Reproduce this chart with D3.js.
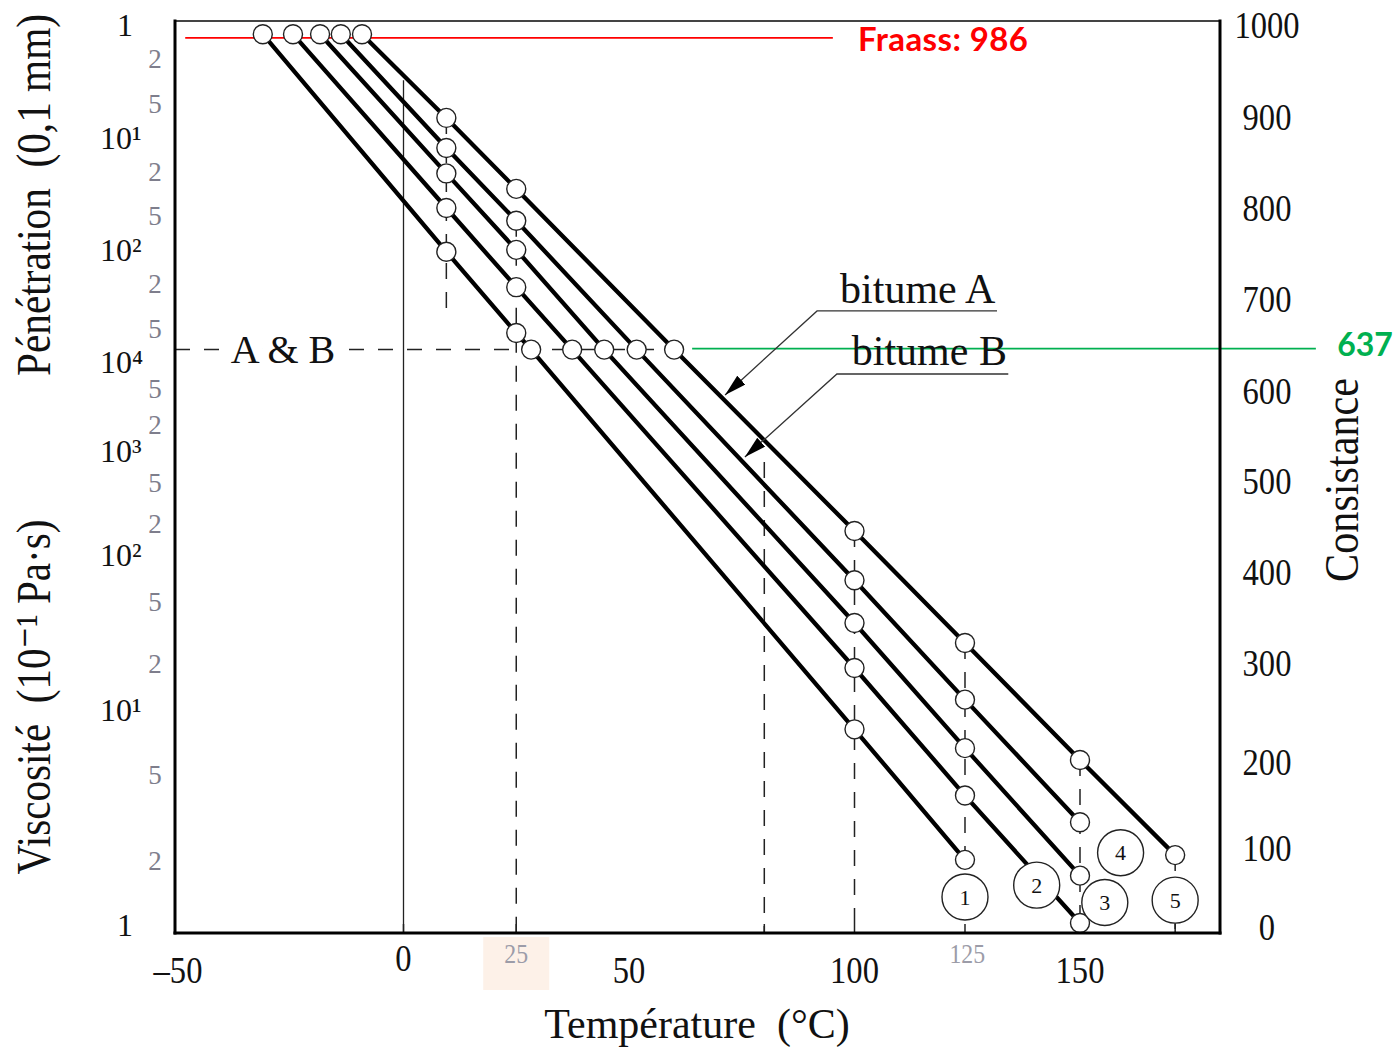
<!DOCTYPE html>
<html>
<head>
<meta charset="utf-8">
<script src="https://cdn.jsdelivr.net/npm/d3@7"></script>
<style>
  body { margin: 0; background: #fff; }
</style>
</head>
<body>
<div id="chart"></div>
<script>
// Bitumen lines: [temperature °C, consistance]
const line1 = [[-31.2, 990], [9.5, 752], [25, 663], [28.3, 645], [100, 233], [124.5, 85]];
const line2 = [[-24.5, 990], [9.5, 800], [25, 713], [37.4, 645], [100, 295], [124.5, 161], [150, 5]];
const line3 = [[-18.5, 990], [9.5, 838], [25, 754], [44.5, 645], [100, 344], [124.5, 214], [150, 65]];
const line4 = [[-13.9, 990], [9.5, 866], [25, 786], [51.7, 645], [100, 391], [124.5, 263], [150, 130]];
const line5 = [[-9.2, 990], [9.5, 899], [25, 821], [60, 645], [100, 445], [124.5, 322], [150, 202], [171.1, 91]];
const bitumenLines = [line1, line2, line3, line4, line5];

// numbered markers [label, temperature, consistance]
const lineLabels = [["1", 124.5, 38], ["2", 140.4, 53], ["3", 155.5, 31], ["4", 159, 94], ["5", 171.1, 34]];

// axis ticks
const tempTicks = [-50, 0, 50, 100, 150];
const tempMinorTicks = [25, 125];
const tempMarks = [0, 25, 80, 100, 124.5, 150, 171.1];
const consTicks = [0, 100, 200, 300, 400, 500, 600, 700, 800, 900, 1000];
const penMajor = [1, 10, 100];
const penMinor = [2, 5, 20, 50, 200, 500];
const viscMajor = [1, 10, 100, 1000, 10000];
const viscMinor = [2, 5, 20, 50, 200, 500, 2000, 5000];

// guides: temperature, consistance from, consistance to
const dashedGuides = [[9.5, 899, 688], [25, 786, 0], [80, 521, 0], [100, 445, 0], [124.5, 322, 0], [150, 202, 0], [171.1, 91, 0]];
const zeroGuide = [0, 940];

// reference levels
const abLevel = 645;           // A & B level (penetration 800 / 10^4)
const abEndTemp = 60;
const fraass = 986;
const fraassSpan = [-48.4, 95.2];
const fraassLabelTemp = 100.8;
const greenSpan = [64, 202.3];
const greenLabel = "637";
const greenLabelTemp = 213.2;

// bitume annotations: text start, underline span, arrow tip
const bitumeA = { text: "bitume A", t: 96.8, c: 695.7, under: [91.7, 131.6, 687], tip: [71.3, 595.6] };
const bitumeB = { text: "bitume B", t: 99.4, c: 628.3, under: [96.1, 134.1, 618.5], tip: [75.7, 526.7] };

const width = 1396, height = 1049;
const frame = { left: 175, right: 1220, top: 21, bottom: 933 };
const serif = "'Liberation Serif', 'DejaVu Serif', serif";
const sans = "Lato, 'Open Sans', sans-serif";

const x = d3.scaleLinear().domain([-50, 150]).range([178, 1080]);
const y = d3.scaleLinear().domain(consTicks)
  .range([927, 848, 762, 663, 572, 481, 391, 299, 208, 117, 25]);
const pen = d3.scaleLog().domain([1, 1000]).range([25, 362]);
const viscLog = d3.scaleLinear().domain([0, 1, 2, 3, 4]).range([925, 710, 555, 451, 362]);
const visc = v => viscLog(Math.log10(v));

const svg = d3.select("#chart").append("svg")
  .attr("width", width)
  .attr("height", height);

svg.append("defs").append("marker")
  .attr("id", "arrow")
  .attr("viewBox", "0 0 22 12")
  .attr("refX", 22).attr("refY", 6)
  .attr("markerWidth", 22).attr("markerHeight", 12)
  .attr("markerUnits", "userSpaceOnUse")
  .attr("orient", "auto")
  .append("path")
  .attr("d", "M0,0 L22,6 L0,12 Z")
  .attr("fill", "#000");

// highlight box behind the "25" label
svg.append("rect")
  .attr("x", x(25) - 33).attr("y", frame.bottom + 4)
  .attr("width", 66).attr("height", 53)
  .attr("fill", "#fdf1e8");

// dashed guides
svg.selectAll(".guide")
  .data(dashedGuides)
  .join("line")
  .attr("x1", d => x(d[0])).attr("x2", d => x(d[0]))
  .attr("y1", d => y(d[1]))
  .attr("y2", d => d[2] === 0 ? frame.bottom : y(d[2]))
  .attr("stroke", "#222")
  .attr("stroke-width", 1.5)
  .attr("stroke-dasharray", "16,13");

svg.append("line")
  .attr("x1", x(zeroGuide[0])).attr("x2", x(zeroGuide[0]))
  .attr("y1", y(zeroGuide[1])).attr("y2", frame.bottom)
  .attr("stroke", "#222").attr("stroke-width", 1.3);

svg.selectAll(".mark")
  .data(tempMarks)
  .join("line")
  .attr("x1", d => x(d)).attr("x2", d => x(d))
  .attr("y1", frame.bottom - 9).attr("y2", frame.bottom)
  .attr("stroke", "#222").attr("stroke-width", 1.5);

// A & B dashed level
svg.append("line")
  .attr("x1", frame.left).attr("x2", x(abEndTemp))
  .attr("y1", y(abLevel)).attr("y2", y(abLevel))
  .attr("stroke", "#222").attr("stroke-width", 1.5)
  .attr("stroke-dasharray", "15,14");

svg.append("text")
  .attr("x", x(-26.7)).attr("y", y(abLevel))
  .attr("dy", "0.33em")
  .attr("text-anchor", "middle")
  .attr("font-family", serif).attr("font-size", 40)
  .attr("stroke", "#fff").attr("stroke-width", 18)
  .attr("paint-order", "stroke")
  .attr("fill", "#111")
  .text("A & B");

// Fraass line
svg.append("line")
  .attr("x1", x(fraassSpan[0])).attr("x2", x(fraassSpan[1]))
  .attr("y1", y(fraass)).attr("y2", y(fraass))
  .attr("stroke", "#ff0000").attr("stroke-width", 1.6);

// bitumen lines
const lineGen = d3.line().x(d => x(d[0])).y(d => y(d[1]));
svg.selectAll(".bitumen")
  .data(bitumenLines)
  .join("path")
  .attr("d", lineGen)
  .attr("fill", "none")
  .attr("stroke", "#000")
  .attr("stroke-width", 4.3);

svg.selectAll(".pt")
  .data(bitumenLines.flat())
  .join("circle")
  .attr("cx", d => x(d[0]))
  .attr("cy", d => y(d[1]))
  .attr("r", 9.5)
  .attr("fill", "#fff")
  .attr("stroke", "#222")
  .attr("stroke-width", 1.4);

const labelG = svg.selectAll(".num")
  .data(lineLabels)
  .join("g")
  .attr("transform", d => `translate(${x(d[1])},${y(d[2])})`);
labelG.append("circle")
  .attr("r", 23)
  .attr("fill", "#fff")
  .attr("stroke", "#222")
  .attr("stroke-width", 1.4);
labelG.append("text")
  .attr("text-anchor", "middle")
  .attr("dy", "0.35em")
  .attr("font-family", serif).attr("font-size", 22)
  .attr("fill", "#111")
  .text(d => d[0]);

// green level line + label
svg.append("line")
  .attr("x1", x(greenSpan[0])).attr("x2", x(greenSpan[1]))
  .attr("y1", y(abLevel) - 1).attr("y2", y(abLevel) - 1)
  .attr("stroke", "#00b050").attr("stroke-width", 1.6);

svg.append("text")
  .attr("x", x(greenLabelTemp)).attr("y", y(abLevel) - 5)
  .attr("dy", "0.35em")
  .attr("text-anchor", "middle")
  .attr("font-family", sans).attr("font-weight", "bold").attr("font-size", 32)
  .attr("fill", "#00b050")
  .text(greenLabel);

svg.append("text")
  .attr("x", x(fraassLabelTemp)).attr("y", y(fraass) + 2)
  .attr("dy", "0.35em")
  .attr("font-family", sans).attr("font-weight", "bold").attr("font-size", 33)
  .attr("letter-spacing", 0.4)
  .attr("fill", "#ff0000")
  .text(`Fraass: ${fraass}`);

// bitume annotations
[bitumeA, bitumeB].forEach(b => {
  svg.append("text")
    .attr("x", x(b.t)).attr("y", y(b.c))
    .attr("font-family", serif).attr("font-size", 42)
    .attr("fill", "#111")
    .text(b.text);
  svg.append("path")
    .attr("d", d3.line()([
      [x(b.under[1]), y(b.under[2])],
      [x(b.under[0]), y(b.under[2])],
      [x(b.tip[0]), y(b.tip[1])]
    ]))
    .attr("fill", "none")
    .attr("stroke", "#333")
    .attr("stroke-width", 1.3)
    .attr("marker-end", "url(#arrow)");
});

// frame
svg.append("line")
  .attr("x1", frame.left).attr("x2", frame.right)
  .attr("y1", frame.top).attr("y2", frame.top)
  .attr("stroke", "#444").attr("stroke-width", 2);
[[frame.left, frame.top, frame.left, frame.bottom],
 [frame.right, frame.top, frame.right, frame.bottom],
 [frame.left, frame.bottom, frame.right, frame.bottom]].forEach(s => {
  svg.append("line")
    .attr("x1", s[0]).attr("y1", s[1]).attr("x2", s[2]).attr("y2", s[3])
    .attr("stroke", "#000").attr("stroke-width", 3)
    .attr("stroke-linecap", "square");
});

// right axis (Consistance)
svg.selectAll(".cons")
  .data(consTicks)
  .join("text")
  .attr("transform", d => `translate(${frame.right + 47},${y(d)}) scale(0.88,1)`)
  .attr("dy", "0.35em")
  .attr("text-anchor", "middle")
  .attr("font-family", serif).attr("font-size", 37)
  .attr("fill", "#111")
  .text(d => d);

// bottom axis (Température)
svg.selectAll(".temp")
  .data(tempTicks)
  .join("text")
  .attr("transform", d => `translate(${x(d)},${d === 0 ? 958 : 970}) scale(0.88,1)`)
  .attr("dy", "0.35em")
  .attr("text-anchor", "middle")
  .attr("font-family", serif).attr("font-size", 37)
  .attr("fill", "#111")
  .text(d => d < 0 ? `\u2013${-d}` : d);

svg.selectAll(".tempMinor")
  .data(tempMinorTicks)
  .join("text")
  .attr("transform", d => `translate(${x(d)},953) scale(0.85,1)`)
  .attr("dy", "0.35em")
  .attr("text-anchor", "middle")
  .attr("font-family", serif).attr("font-size", 28)
  .attr("fill", "#9c9ca8")
  .text(d => d);

// left axis: penetration (top) and viscosity (bottom)
const sup = { 1: "\u00b9", 2: "\u00b2", 3: "\u00b3", 4: "\u2074" };
function majorLabels(values, scale) {
  const g = svg.append("g");
  values.forEach(v => {
    const e = Math.round(Math.log10(v));
    const t = g.append("text")
      .attr("x", e === 0 ? 117 : 100)
      .attr("y", scale(v))
      .attr("dy", "0.35em")
      .attr("font-family", serif).attr("font-size", 32)
      .attr("fill", "#111");
    if (e === 0) {
      t.text("1");
    } else {
      t.text("10");
      t.append("tspan").text(sup[e]);
    }
  });
}
function minorLabels(values, scale) {
  svg.append("g").selectAll("text")
    .data(values)
    .join("text")
    .attr("x", 155)
    .attr("y", d => scale(d))
    .attr("dy", "0.35em")
    .attr("text-anchor", "middle")
    .attr("font-family", serif).attr("font-size", 27)
    .attr("fill", "#7e7e8c")
    .text(d => String(d)[0]);
}
majorLabels(penMajor, pen);
minorLabels(penMinor, pen);
majorLabels(viscMajor, visc);
minorLabels(viscMinor, visc);

// axis titles
svg.append("text")
  .attr("x", 697).attr("y", 1038)
  .attr("text-anchor", "middle")
  .attr("font-family", serif).attr("font-size", 42)
  .style("white-space", "pre")
  .attr("fill", "#111")
  .text("Température  (°C)");

function vTitle(txt, cx, cy, len) {
  svg.append("text")
    .attr("transform", `translate(${cx},${cy}) rotate(-90) scale(1,1.18)`)
    .attr("text-anchor", "middle")
    .attr("font-family", serif).attr("font-size", 42)
    .attr("textLength", len)
    .attr("lengthAdjust", "spacingAndGlyphs")
    .style("white-space", "pre")
    .attr("fill", "#111")
    .text(txt);
}
vTitle("Pénétration  (0,1 mm)", 50, 195, 362);
vTitle("Viscosité  (10\u207b\u00b9 Pa·s)", 50, 697, 355);
vTitle("Consistance", 1358, 480, 204);
</script>
</body>
</html>
